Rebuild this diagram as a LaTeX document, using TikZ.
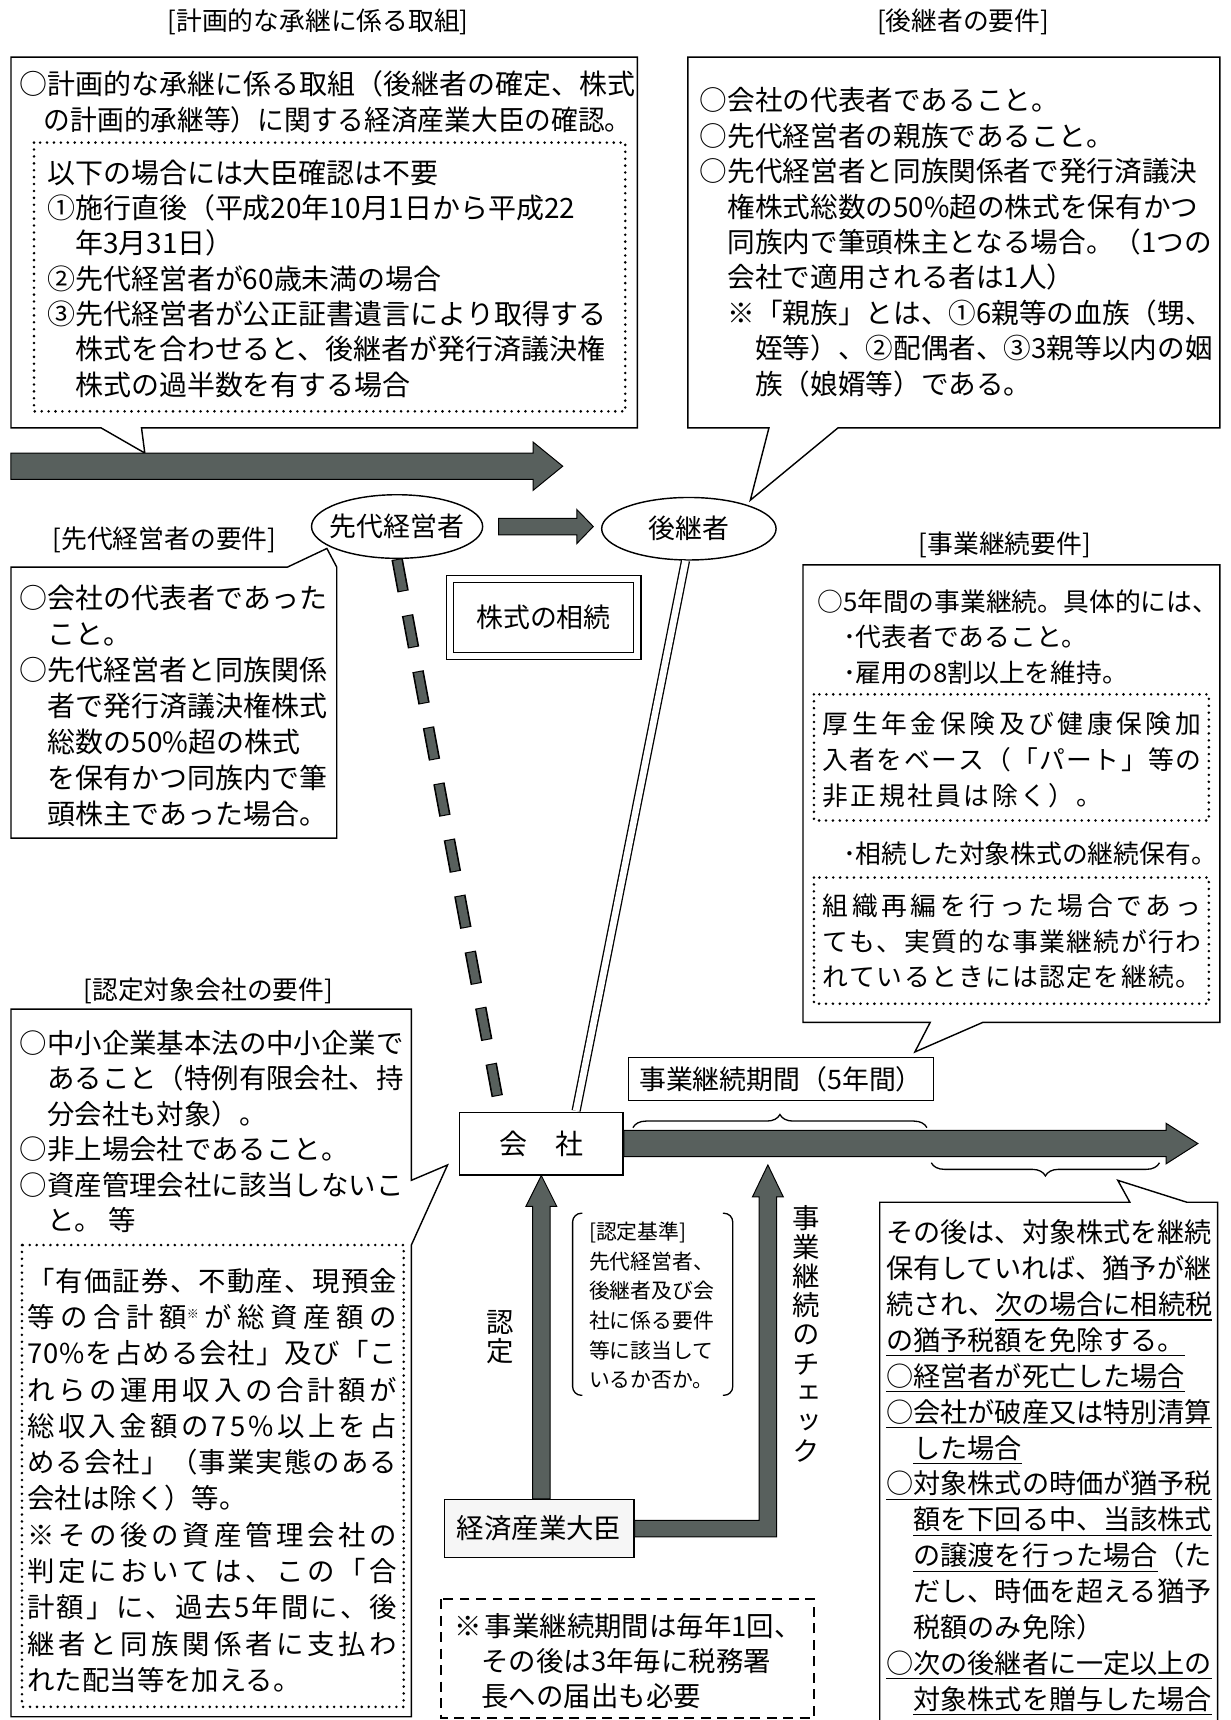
\documentclass[tikz,border=0pt]{standalone}
\usepackage{fontspec}
\usepackage{graphicx}
\setmainfont{Noto Sans CJK JP}
\newfontfamily\vfont[RawFeature=+vert]{Noto Sans CJK JP}
\usetikzlibrary{shapes.geometric,calc,decorations.pathreplacing}
\definecolor{agray}{RGB}{88,96,93}
\makeatletter
\def\sprd#1{\sprd@a#1\relax}
\def\sprd@a#1{#1\sprd@b}
\def\sprd@b#1{\ifx\relax#1\else\hfil#1\expandafter\sprd@b\fi}
\makeatother
\newcommand\fs[1]{\fontsize{#1}{#1}\selectfont}
\newcommand\ulx[1]{\setbox0\hbox{#1}\rlap{\rule[-5.5pt]{\wd0}{1.1pt}}\box0\relax}
\newcommand\tblock[6][]{\foreach \myl [count=\i] in {#6} {\node[txt,#1] (#2-\i) at (#3,{#4+(\i-1)*#5}) {\myl};}}
\tikzset{
  txt/.style={inner sep=0pt, outer sep=0pt, anchor=base west, font=\fs{25}},
  ttl/.style={inner sep=0pt, font=\fs{23.5}},
  frame/.style={draw, line width=1.3pt, line join=miter},
  plainbox/.style={draw, line width=1.3pt, inner sep=0pt, fill=white},
  dotbox/.style={draw, line width=2.6pt, dash pattern=on 0pt off 6.3pt, line cap=round},
  dashbox/.style={draw, line width=2pt, dash pattern=on 9pt off 6pt},
  blockarrow/.style={fill=agray, draw=black, line width=0.9pt, line join=miter},
  vlab/.style={inner sep=0pt, align=center},
}
\begin{document}
\begin{tikzpicture}[x=1pt,y=-1pt]
\useasboundingbox (0,0) rectangle (1122,1568);
\fill[white] (0,0) rectangle (1122,1568);

% ---------- titles
\node[ttl] (t1) at (290,20) {[計画的な承継に係る取組]};
\node[ttl] (t2) at (878,20) {[後継者の要件]};
\node[ttl] (t3) at (150,492) {[先代経営者の要件]};
\node[ttl] (t4) at (916,497) {[事業継続要件]};
\node[ttl] (t5) at (190,903) {[認定対象会社の要件]};

% ---------- box 1
\draw[frame] (10,52) -- (581,52) -- (581,390) -- (129,390) -- (132,413) -- (92,390) -- (10,390) -- cycle;
\tblock[font=\fs{25.5}]{b1}{18}{86}{33}{{○計画的な承継に係る取組（後継者の確定、株式},{\hspace{22pt}\scalebox{0.955}[1]{の計画的承継等）に関する経済産業大臣の確認。}}}
\draw[dotbox] (31,130) rectangle (570,375);
\tblock[font=\fs{25.5}]{b1d}{43}{167}{32.2}{%
{以下の場合には大臣確認は不要},%
{①施行直後（平成20年10月1日から平成22},%
{　年3月31日）},%
{②先代経営者が60歳未満の場合},%
{③先代経営者が公正証書遺言により取得する},%
{　株式を合わせると、後継者が発行済議決権},%
{　株式の過半数を有する場合}}

% ---------- top arrow
\coordinate (ta0) at (10,425);
\coordinate (ta1) at (513,425);
\draw[blockarrow] let \p1=(ta0), \p2=(ta1) in (\x1,\y1+12) -- (\x2-27,\y1+12) -- (\x2-27,\y1+22) -- (\x2,\y1) -- (\x2-27,\y1-22) -- (\x2-27,\y1-12) -- (\x1,\y1-12) -- cycle;

% ---------- box 2
\draw[frame] (627,52) -- (1112,52) -- (1112,390) -- (764,390) -- (684,456) -- (701,390) -- (627,390) -- cycle;
\tblock[font=\fs{25.2}]{b2}{638}{101}{32.3}{%
{○会社の代表者であること。},%
{○先代経営者の親族であること。},%
{○先代経営者と同族関係者で発行済議決},%
{　権株式総数の50\%超の株式を保有かつ},%
{　同族内で筆頭株主となる場合。（1つの},%
{　会社で適用される者は1人）},%
{　※「親族」とは、①6親等の血族（甥、},%
{　　姪等）、②配偶者、③3親等以内の姻},%
{　　族（娘婿等）である。}}

% ---------- box 3
\draw[frame] (10,517) -- (262,517) -- (298,500) -- (307,517) -- (307,764) -- (10,764) -- cycle;
\tblock[font=\fs{25.5}]{b3}{18}{555}{32.7}{%
{○会社の代表者であった},{　こと。},{○先代経営者と同族関係},{　者で発行済議決権株式},%
{　総数の50\%超の株式},{　を保有かつ同族内で筆},{　頭株主であった場合。}}

% ---------- ellipses and small arrow
\node[draw, ellipse, line width=1.3pt, minimum width=156pt, minimum height=58pt, inner sep=0pt] (sendai) at (362,480) {};
\node[inner sep=0pt, font=\fs{24.5}] (sendait) at (sendai.center) {先代経営者};
\node[draw, ellipse, line width=1.3pt, minimum width=159pt, minimum height=57pt, inner sep=0pt] (koukei) at (628,482) {};
\node[inner sep=0pt, font=\fs{24.5}] (koukeit) at (koukei.center) {後継者};
\draw[blockarrow] let \p1=($(sendai.east)+(14,0)$), \p2=($(koukei.west)+(-7,0)$) in (\x1,\y1+7.5) -- (\x2-15,\y1+7.5) -- (\x2-15,\y1+15.5) -- (\x2,\y1) -- (\x2-15,\y1-15.5) -- (\x2-15,\y1-7.5) -- (\x1,\y1-7.5) -- cycle;

% ---------- stock inheritance double box
\node[draw, double, double distance=5.5pt, line width=1.1pt, minimum width=171pt, minimum height=70pt, inner sep=0pt, font=\fs{24.5}] (souzoku) at (495.5,563) {株式の相続};

% ---------- box 4
\draw[frame] (732,515) -- (1112,515) -- (1112,932) -- (896,932) -- (834,959) -- (848,932) -- (732,932) -- cycle;
\tblock[font=\fs{23.5}]{b4}{745}{557}{32.5}{{○5年間の事業継続。具体的には、},{　･代表者であること。},{　･雇用の8割以上を維持。}}
\draw[dotbox] (742,633) rectangle (1102,748);
\tblock[font=\fs{23.5}]{b4d}{750}{669}{32.5}{%
{\hbox to 345pt{\sprd{厚生年金保険及び健康保険加}}},%
{\hbox to 345pt{\sprd{入者をベース（「パート」等の}}},%
{\hbox to 255pt{\sprd{非正規社員は除く）。}}}}
\node[txt, font=\fs{23.5}] (b4e) at (745,787) {　･相続した対象株式の継続保有。};
\draw[dotbox] (742,800) rectangle (1102,915);
\tblock[font=\fs{23.5}]{b4f}{750}{835}{32}{%
{\hbox to 345pt{\sprd{組織再編を行った場合であっ}}},%
{\hbox to 345pt{\sprd{ても、実質的な事業継続が行わ}}},%
{\hbox to 345pt{\sprd{れているときには認定を継続。}}}}

% ---------- box 5
\draw[frame] (10,920) -- (375,920) -- (375,1076) -- (408,1062) -- (375,1135) -- (375,1565) -- (10,1565) -- cycle;
\tblock[font=\fs{25}]{b5}{18}{960}{32.4}{%
{○中小企業基本法の中小企業で},{　あること（特例有限会社、持},{　分会社も対象）。},%
{○非上場会社であること。},{○資産管理会社に該当しないこ},{　と。\hspace{6pt}等}}
\draw[dotbox] (20,1135) rectangle (368,1556);
\tblock[font=\fs{25}]{b5d}{25}{1177}{33.1}{%
{\hbox to 337pt{\sprd{「有価証券、不動産、現預金}}},%
{\hbox to 337pt{等\hfil の\hfil 合\hfil 計\hfil 額\raisebox{8pt}{\fs{11}※}\hfil が\hfil 総\hfil 資\hfil 産\hfil 額\hfil の}},%
{\hbox to 337pt{\sprd{70\%を占める会社」及び「こ}}},%
{\hbox to 337pt{\sprd{れらの運用収入の合計額が}}},%
{\hbox to 337pt{\sprd{総収入金額の75\%以上を占}}},%
{\hbox to 337pt{\sprd{める会社」（事業実態のある}}},%
{会社は除く）等。},%
{\hbox to 337pt{\sprd{※その後の資産管理会社の}}},%
{\hbox to 337pt{\sprd{判定においては、この「合}}},%
{\hbox to 337pt{\sprd{計額」に、過去5年間に、後}}},%
{\hbox to 337pt{\sprd{継者と同族関係者に支払わ}}},%
{れた配当等を加える。}}

% ---------- company, period label
\node[plainbox, minimum width=149pt, minimum height=57pt, font=\fs{25.5}] (kaisha) at (493.5,1042.5) {会　社};
\node[plainbox, minimum width=278pt, minimum height=39pt, font=\fs{24.5}] (kikan) at (712,983.5) {事業継続期間（5年間）};
\draw[line width=1.2pt, decorate, decoration={brace, amplitude=12pt}] (577,1028) -- (845,1028);

% connectors from the two persons to the company
\draw[line width=10.5pt, dash pattern=on 30pt off 22pt, black] (sendai.south) -- ($(kaisha.north west)!0.25!(kaisha.north east)$);
\draw[line width=7.5pt, dash pattern=on 28pt off 24pt, dash phase=51pt, agray] (sendai.south) -- ($(kaisha.north west)!0.25!(kaisha.north east)$);
\draw[double=white, double distance=6pt, line width=1.2pt, shorten >=0.7pt] (koukei.-96) -- ($(kaisha.north west)!0.71!(kaisha.north east)$);

% ---------- big arrow 2
\coordinate (ba1) at (1092,1043);
\draw[blockarrow] let \p1=(kaisha.east), \p2=(ba1) in (\x1,\y1+12) -- (\x2-29,\y1+12) -- (\x2-29,\y1+18.5) -- (\x2,\y1) -- (\x2-29,\y1-18.5) -- (\x2-29,\y1-12) -- (\x1,\y1-12) -- cycle;
\draw[line width=1.2pt, decorate, decoration={brace, amplitude=12pt}] (1057,1060) -- (849,1060);

% ---------- box 6
\draw[frame] (802,1096) -- (1030,1096) -- (1019,1076) -- (1082,1096) -- (1110,1096) -- (1110,1580) -- (802,1580) -- cycle;
\tblock[font=\fs{24.75}]{b6}{808}{1133}{32.7}{%
{その後は、対象株式を継続},%
{保有していれば、猶予が継},%
{続され、\ulx{次の場合に相続税}},%
{\ulx{の猶予税額を免除する。}},%
{\ulx{○経営者が死亡した場合}},%
{\ulx{○会社が破産又は特別清算}},%
{　\ulx{した場合}},%
{\ulx{○対象株式の時価が猶予税}},%
{　\ulx{額を下回る中、当該株式}},%
{　\ulx{の譲渡を行った場合}（た},%
{　だし、時価を超える猶予},%
{　税額のみ免除）},%
{\ulx{○次の後継者に一定以上の}},%
{　\ulx{対象株式を贈与した場合}}}

% ---------- minister and checks
\node[plainbox, fill=gray!7, minimum width=173pt, minimum height=53pt, font=\fs{25}] (daijin) at (491.5,1393.5) {経済産業大臣};
\draw[blockarrow] let \p1=(kaisha.south |- daijin.north), \p2=(kaisha.south) in (\x1-8,\y1) -- (\x1-8,\y2-28) -- (\x1-14,\y2-28) -- (\x2,\y2) -- (\x1+14,\y2-28) -- (\x1+8,\y2-28) -- (\x1+8,\y1) -- cycle;
\coordinate (chk) at (700,1062);
\draw[blockarrow] let \p1=(daijin.east), \p2=(chk) in (\x1,\y1+7.5) -- (\x2-8,\y1+7.5) -- (\x2-8,\y2-29) -- (\x2-14,\y2-29) -- (\x2,\y2) -- (\x2+14,\y2-29) -- (\x2+8,\y2-29) -- (\x2+8,\y1-7.5) -- (\x1,\y1-7.5) -- cycle;
\node[vlab, font=\vfont\fontsize{25}{27}\selectfont] (nintei) at (456,1219) {認\\定};
\node[vlab, font=\vfont\fontsize{25}{26.5}\selectfont] (check) at (735,1216) {事\\業\\継\\続\\の\\チ\\ェ\\ッ\\ク};

% criteria bracket text
\draw[line width=1.2pt, rounded corners=8pt] (531,1106) -- (522,1106) -- (522,1272) -- (531,1272);
\draw[line width=1.2pt, rounded corners=8pt] (659,1106) -- (668,1106) -- (668,1272) -- (659,1272);
\tblock[font=\fs{19}]{kj}{537}{1130}{27}{{[認定基準]},{先代経営者、},{後継者及び会},{社に係る要件},{等に該当して},{いるか否か。}}

% ---------- bottom dashed note
\draw[dashbox] (402,1458) rectangle (742,1566);
\tblock[font=\fs{25}]{nb}{414}{1492}{32}{{※\hspace{3pt}事業継続期間は毎年1回、},{　その後は3年毎に税務署},{　長への届出も必要}}
\end{tikzpicture}
\end{document}
